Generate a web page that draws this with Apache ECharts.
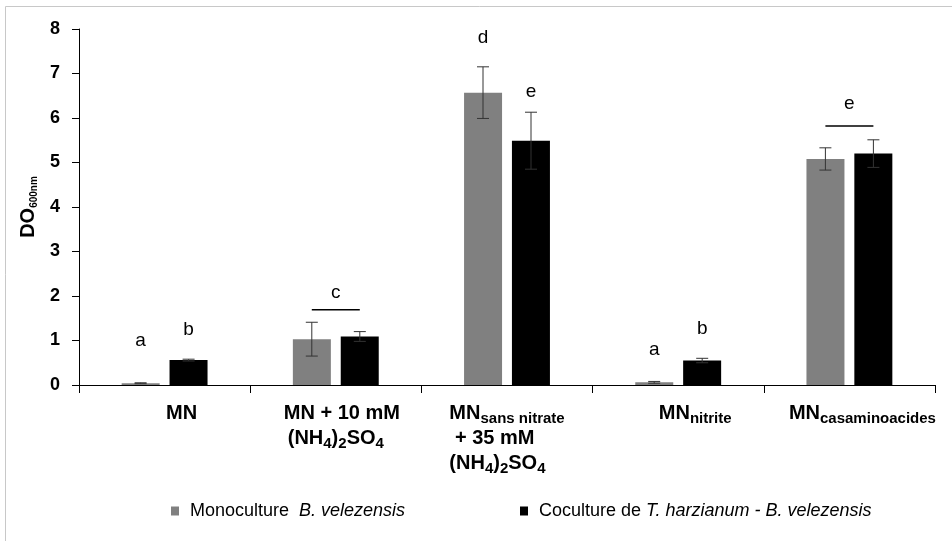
<!DOCTYPE html>
<html>
<head>
<meta charset="utf-8">
<script src="https://cdn.jsdelivr.net/npm/echarts@6/dist/echarts.min.js"></script>
<style>
html,body{margin:0;padding:0;background:#fff;}
#c{width:952px;height:541px;}
</style>
</head>
<body>
<div id="c"></div>
<script>
// ---- data ----
const categories = ['MN', 'MN + 10 mM (NH4)2SO4', 'MNsans nitrate + 35 mM (NH4)2SO4', 'MNnitrite', 'MNcasaminoacides'];
const seriesNames = ['Monoculture B. velezensis', 'Coculture de T. harzianum - B. velezensis'];
const monoValues = [0.04, 1.03, 6.57, 0.06, 5.08];
const monoErrors = [0.01, 0.38, 0.58, 0.02, 0.25];
const cocuValues = [0.56, 1.09, 5.49, 0.55, 5.20];
const cocuErrors = [0.02, 0.11, 0.64, 0.05, 0.31];
// significance letters (text, height in DO units)
const monoLetters = ['a', '', 'd', 'a', ''];
const monoLetterY = [0.99, null, 7.80, 0.79, null];
const cocuLetters = ['b', '', 'e', 'b', ''];
const cocuLetterY = [1.24, null, 6.58, 1.26, null];
// letters shared by both bars of a group
const groupCats = [1, 4];
const groupLineY = [1.69, 5.82];
const groupLetterY = [2.07, 6.31];
const groupLetterText = ['c', 'e'];
const yTicks = [0, 1, 2, 3, 4, 5, 6, 7, 8];

// ---- chart ----
const FONT = 'Liberation Sans, Arial, sans-serif';
const BAR_OFFSET = 24;
const chart = echarts.init(document.getElementById('c'), null, {renderer: 'canvas'});

function errItem(offset) {
  return function (params, api) {
    const x = api.value(0);
    const pLo = api.coord([x, api.value(1)]);
    const pHi = api.coord([x, api.value(2)]);
    const cx = pLo[0] + offset, hw = 6;
    const st = {stroke: '#333333', lineWidth: 1};
    return {type: 'group', children: [
      {type: 'line', shape: {x1: cx, y1: pLo[1], x2: cx, y2: pHi[1]}, style: st},
      {type: 'line', shape: {x1: cx - hw, y1: pHi[1], x2: cx + hw, y2: pHi[1]}, style: st},
      {type: 'line', shape: {x1: cx - hw, y1: pLo[1], x2: cx + hw, y2: pLo[1]}, style: st}
    ]};
  };
}
function letterSeries(letters, ys, offset) {
  const idx = [];
  letters.forEach((t, i) => { if (t) idx.push(i); });
  return {
    type: 'custom', z: 6,
    data: idx.map(i => [i, ys[i]]),
    renderItem: function (params, api) {
      const p = api.coord([api.value(0), api.value(1)]);
      return {type: 'text', style: {x: p[0] + offset, y: p[1], text: letters[idx[params.dataIndex]],
        fill: '#000', font: '19px ' + FONT, align: 'center', verticalAlign: 'middle'}};
    }
  };
}
function groupItem(params, api) {
  const pl = api.coord([api.value(0), api.value(1)]);
  const pt = api.coord([api.value(0), api.value(2)]);
  return {type: 'group', children: [
    {type: 'line', shape: {x1: pl[0] - 24, y1: pl[1], x2: pl[0] + 24, y2: pl[1]}, style: {stroke: '#000', lineWidth: 1.5}},
    {type: 'text', style: {x: pt[0], y: pt[1], text: groupLetterText[params.dataIndex], fill: '#000',
      font: '19px ' + FONT, align: 'center', verticalAlign: 'middle'}}
  ]};
}

const bold = {fontFamily: FONT, fontWeight: 'bold', color: '#000'};
const rich = {
  b: Object.assign({fontSize: 20, lineHeight: 25}, bold),
  s: Object.assign({fontSize: 15, lineHeight: 14, verticalAlign: 'bottom'}, bold),
  bl: Object.assign({fontSize: 20, lineHeight: 25, align: 'left'}, bold),
  sl: Object.assign({fontSize: 15, lineHeight: 14, verticalAlign: 'bottom', align: 'left'}, bold),
  p34: Object.assign({fontSize: 20, lineHeight: 25, padding: [0, 0, 0, 34]}, bold),
  p12: Object.assign({fontSize: 20, lineHeight: 25, padding: [0, 0, 0, 12]}, bold),
  p26: Object.assign({fontSize: 20, lineHeight: 25, padding: [0, 0, 0, 26]}, bold)
};
const labelRich = [
  '{p34|MN}',
  '{p12|MN + 10 mM}\n{b|(NH}{s|4}{b|)}{s|2}{b|SO}{s|4}',
  '{bl|MN}{sl|sans nitrate}\n{bl| + 35 mM}\n{bl|(NH}{sl|4}{bl|)}{sl|2}{bl|SO}{sl|4}',
  '{p34|MN}{s|nitrite}',
  '{p26|MN}{s|casaminoacides}'
];
const legendText = {fontFamily: FONT, fontSize: 18, color: '#000',
  rich: {n: {fontFamily: FONT, fontSize: 18, color: '#000', padding: [0, 0, 0, 6]},
         i: {fontFamily: FONT, fontSize: 18, color: '#000', fontStyle: 'italic'}}};
function legendFmt(name) {
  return name === seriesNames[0]
    ? '{n|Monoculture  }{i|B. velezensis}'
    : '{n|Coculture de }{i|T. harzianum - B. velezensis}';
}

const option = {
  animation: false,
  backgroundColor: '#fff',
  graphic: [{type: 'rect', shape: {x: 5.5, y: 6.5, width: 1000, height: 600},
    style: {fill: 'none', stroke: '#c8c8c8', lineWidth: 1}, silent: true}],
  grid: {left: 79, right: 17, top: 29, bottom: 156},
  legend: [
    {data: [seriesNames[0]], left: 166, top: 497, icon: 'rect', itemWidth: 8, itemHeight: 9,
      formatter: legendFmt, textStyle: legendText},
    {data: [seriesNames[1]], left: 515, top: 497, icon: 'rect', itemWidth: 8, itemHeight: 9,
      formatter: legendFmt, textStyle: legendText}
  ],
  xAxis: {
    type: 'category', data: categories,
    axisLine: {lineStyle: {color: '#000', width: 1}},
    axisTick: {show: true, length: 8, lineStyle: {color: '#000'}},
    axisLabel: {interval: 0, margin: 16, formatter: function (v, i) { return labelRich[i]; }, rich: rich}
  },
  yAxis: {
    type: 'value', min: yTicks[0], max: yTicks[yTicks.length - 1], interval: 1,
    name: '{a|DO}{b|600nm}', nameLocation: 'middle', nameRotate: 90, nameGap: 33,
    nameTextStyle: {rich: {
      a: {fontFamily: FONT, fontWeight: 'bold', fontSize: 20, color: '#000', lineHeight: 22},
      b: {fontFamily: FONT, fontWeight: 'bold', fontSize: 10, color: '#000', lineHeight: 11, verticalAlign: 'bottom'}
    }},
    splitLine: {show: false},
    axisLine: {show: true, lineStyle: {color: '#000', width: 1}},
    axisTick: {show: true, length: 7, lineStyle: {color: '#000'}},
    axisLabel: {fontFamily: FONT, fontWeight: 'bold', fontSize: 18, color: '#000', margin: 19}
  },
  series: [
    {name: seriesNames[0], type: 'bar', data: monoValues, barWidth: 38, barGap: '26%', itemStyle: {color: '#808080'}},
    {name: seriesNames[1], type: 'bar', data: cocuValues, barWidth: 38, itemStyle: {color: '#000000'}},
    {type: 'custom', z: 5, renderItem: errItem(-BAR_OFFSET),
      data: monoValues.map((v, i) => [i, v - monoErrors[i], v + monoErrors[i]])},
    {type: 'custom', z: 5, renderItem: errItem(BAR_OFFSET),
      data: cocuValues.map((v, i) => [i, v - cocuErrors[i], v + cocuErrors[i]])},
    letterSeries(monoLetters, monoLetterY, -BAR_OFFSET),
    letterSeries(cocuLetters, cocuLetterY, BAR_OFFSET),
    {type: 'custom', z: 6, renderItem: groupItem,
      data: groupCats.map((c, k) => [c, groupLineY[k], groupLetterY[k]])}
  ]
};
chart.setOption(option);
</script>
</body>
</html>
